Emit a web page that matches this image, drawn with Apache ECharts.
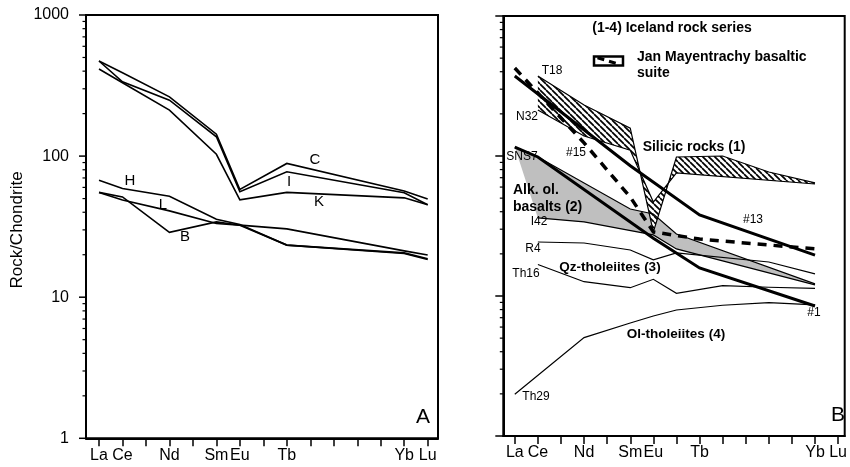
<!DOCTYPE html>
<html>
<head>
<meta charset="utf-8">
<script src="https://cdn.jsdelivr.net/npm/echarts@6/dist/echarts.min.js"></script>
<style>
html,body{margin:0;padding:0;background:#fff;}
#chart{width:850px;height:467px;}
</style>
</head>
<body>
<div id="chart"></div>
<script>
// ---------- Data ----------
const REE = ['La','Ce','Pr','Nd','Pm','Sm','Eu','Gd','Tb','Dy','Ho','Er','Tm','Yb','Lu'];
const xTickLabels = ['La','Ce','Nd','Sm','Eu','Tb','Yb','Lu'];
const yTickLabels = [1, 10, 100, 1000];
const yMinorTicks = [2,3,4,5,6,7,8,9,20,30,40,50,60,70,80,90,200,300,400,500,600,700,800,900];

// Panel A
const elemsA = ['La','Ce','Nd','Sm','Eu','Tb','Yb','Lu'];
const sampleC = [472, 390, 263, 143, 58, 88.7, 56.5, 49.6];
const sampleI = [472, 336, 249, 137, 56, 77.4, 55.0, 45.2];
const sampleK = [414, 331, 212, 103, 49, 55.3, 50.6, 45.2];
const sampleH = [67.3, 59.0, 52.0, 35.7, 32.8, 23.4, 20.4, 18.5];
const sampleL = [55.3, 48.8, 40.9, 33.3, 32.4, 30.5, 21.3, 19.9];
const sampleB = [55.3, 51.4, 28.8, 34.2, 32.4, 23.4, 20.6, 18.7];

// Panel B
const elemsT18 = ['Ce','Nd','Sm','Eu','Gd','Dy','Er','Yb'];
const sampleT18 = [373, 231, 158, 28.7, 98.4, 100, 76.9, 64.2];
const elemsN32 = ['Ce','Nd','Sm','Eu','Gd','Yb'];
const sampleN32 = [213, 139, 110, 46.9, 75.7, 63.1];
const elems13 = ['La','Sm','Tb','Yb'];
const sample13 = [373, 85.2, 37.9, 19.6];
const elems15 = ['La','Ce','Nd','Sm','Eu','Tb','Yb'];
const sample15 = [425, 282, 124, 50.9, 28.7, 25.5, 21.7];
const elems1 = ['La','Ce','Eu','Tb','Yb'];
const sample1 = [115.9, 98.4, 25.9, 15.85, 8.49];
const elemsSNS7 = ['La','Ce','Sm','Eu','Gd','Yb'];
const sampleSNS7 = [115.9, 98.4, 41.8, 38.5, 27.7, 12.2];
const elemsI42 = ['Ce','Nd','Eu','Gd','Yb'];
const sampleI42 = [36.1, 33.8, 27.3, 21.7, 12.0];
const elemsR4 = ['Ce','Nd','Sm','Eu','Gd','Er','Yb'];
const sampleR4 = [24.3, 23.9, 21.3, 18.1, 20.3, 17.5, 14.4];
const elemsTh16 = ['Ce','Nd','Sm','Eu','Gd','Dy','Er','Yb'];
const sampleTh16 = [16.8, 12.65, 11.46, 13.16, 10.45, 11.85, 11.55, 11.35];
const elemsTh29 = ['La','Nd','Sm','Eu','Gd','Dy','Er','Yb'];
const sampleTh29 = [1.99, 5.04, 6.41, 7.2, 7.94, 8.59, 8.96, 8.63];

// ---------- Helpers ----------
const FONT = '"Liberation Sans", Arial, sans-serif';
const pos = e => 57 + REE.indexOf(e);
const pts = (elems, vals) => elems.map((e, i) => [pos(e), vals[i]]);
const X_A = [56.446, 71.439], X_B = [56.503, 71.286];

function hatchPattern() {
  const s = 6;
  const c = document.createElement('canvas');
  c.width = s; c.height = s;
  const ctx = c.getContext('2d');
  ctx.fillStyle = '#fff'; ctx.fillRect(0, 0, s, s);
  ctx.strokeStyle = '#000'; ctx.lineWidth = 1.7;
  for (const k of [-s, 0, s]) {
    ctx.beginPath(); ctx.moveTo(k, 0); ctx.lineTo(k + s, s); ctx.stroke();
  }
  return { image: c, repeat: 'repeat' };
}

function lineSeries(name, elems, vals, xi, yi, width, dashed) {
  return {
    name, type: 'line', xAxisIndex: xi, yAxisIndex: yi,
    data: pts(elems, vals), symbol: 'none', silent: true, z: 5,
    lineStyle: { color: '#000', width: width, type: dashed ? [9, 7] : 'solid', cap: 'butt', join: 'miter' }
  };
}

function bandSeries(upE, upV, loE, loV, xi, yi, fill) {
  const up = pts(upE, upV), lo = pts(loE, loV).reverse();
  return {
    type: 'custom', xAxisIndex: xi, yAxisIndex: yi, silent: true, z: 2,
    data: [[60, 10]],
    renderItem: function (params, api) {
      const poly = up.concat(lo).map(p => api.coord(p));
      return { type: 'polygon', shape: { points: poly }, style: { fill: fill, stroke: null } };
    }
  };
}

// y-axis tick marks (major + minor) placed through the log axis scale
function yTickSeries(xi, yi, xmin, values, len, width) {
  return {
    type: 'custom', xAxisIndex: xi, yAxisIndex: yi, silent: true, z: 6, clip: false,
    data: values.map(v => [xmin, v]),
    renderItem: function (params, api) {
      const p = api.coord([api.value(0), api.value(1)]);
      return { type: 'line', shape: { x1: p[0] - len, y1: p[1], x2: p[0], y2: p[1] },
        style: { stroke: '#000', lineWidth: width } };
    }
  };
}

function xAxisDef(gi, ext) {
  return {
    type: 'value', gridIndex: gi, min: ext[0], max: ext[1],
    axisLine: { show: true, onZero: false, lineStyle: { color: '#000', width: 2 } },
    axisTick: { show: true, inside: false, length: 8, lineStyle: { color: '#000', width: 1.5 },
      customValues: REE.map(pos) },
    axisLabel: { show: true, margin: 9, color: '#000', fontSize: 16, fontFamily: FONT,
      customValues: xTickLabels.map(pos), formatter: v => REE[Math.round(v) - 57] },
    splitLine: { show: false }
  };
}

function yAxisMain(gi, showLabels) {
  return {
    type: 'log', logBase: 10, gridIndex: gi, min: 1, max: 1000, position: 'left',
    axisLine: { show: true, onZero: false, lineStyle: { color: '#000', width: 2 } },
    axisTick: { show: false },
    axisLabel: { show: showLabels, margin: 17, color: '#000', fontSize: 16, fontFamily: FONT,
      customValues: yTickLabels, formatter: v => String(Math.round(v)) },
    splitLine: { show: false }
  };
}

function txt(x, y, text, size, bold, align) {
  return {
    type: 'text', x: x, y: y, silent: true, z: 50,
    style: { text: text, fill: '#000', font: (bold ? 'bold ' : '') + size + 'px ' + FONT,
      align: align || 'center', verticalAlign: 'middle' }
  };
}

const chart = echarts.init(document.getElementById('chart'), null, { renderer: 'canvas' });
const hatch = hatchPattern();

const option = {
  animation: false,
  backgroundColor: '#fff',
  grid: [
    { left: 86, top: 15, width: 352, height: 423.3, show: true, borderColor: '#000', borderWidth: 2, backgroundColor: 'transparent', containLabel: false },
    { left: 503.3, top: 16, width: 347.7, height: 420, show: true, borderColor: '#000', borderWidth: 2, backgroundColor: 'transparent', containLabel: false }
  ],
  xAxis: [ xAxisDef(0, X_A), xAxisDef(1, X_B) ],
  yAxis: [ yAxisMain(0, true), yAxisMain(1, false) ],
  series: [
    // axis ticks
    yTickSeries(0, 0, X_A[0], yTickLabels, 7, 1.5),
    yTickSeries(0, 0, X_A[0], yMinorTicks, 3.5, 1.2),
    yTickSeries(1, 1, X_B[0], yTickLabels, 8, 1.5),
    yTickSeries(1, 1, X_B[0], yMinorTicks, 3.5, 1.2),
    // Panel A
    lineSeries('C', elemsA, sampleC, 0, 0, 1.6),
    lineSeries('I', elemsA, sampleI, 0, 0, 1.6),
    lineSeries('K', elemsA, sampleK, 0, 0, 1.6),
    lineSeries('H', elemsA, sampleH, 0, 0, 1.6),
    lineSeries('L', elemsA, sampleL, 0, 0, 1.6),
    lineSeries('B', elemsA, sampleB, 0, 0, 1.6),
    // Panel B bands
    bandSeries(elemsSNS7, sampleSNS7, elemsI42, sampleI42, 1, 1, '#bfbfbf'),
    bandSeries(elemsT18, sampleT18, elemsN32, sampleN32, 1, 1, hatch),
    // Panel B lines
    lineSeries('SNS7', elemsSNS7, sampleSNS7, 1, 1, 1.2),
    lineSeries('I42', elemsI42, sampleI42, 1, 1, 1.2),
    lineSeries('T18', elemsT18, sampleT18, 1, 1, 1.2),
    lineSeries('N32', elemsN32, sampleN32, 1, 1, 1.2),
    lineSeries('R4', elemsR4, sampleR4, 1, 1, 1.2),
    lineSeries('Th16', elemsTh16, sampleTh16, 1, 1, 1.2),
    lineSeries('Th29', elemsTh29, sampleTh29, 1, 1, 1.2),
    lineSeries('#13', elems13, sample13, 1, 1, 3),
    lineSeries('#1', elems1, sample1, 1, 1, 3),
    lineSeries('#15', elems15, sample15, 1, 1, 3.5, true)
  ],
  graphic: [
    { type: 'text', x: 17.5, y: 230, rotation: Math.PI / 2, silent: true,
      style: { text: 'Rock/Chondrite', fill: '#000', font: '17px ' + FONT, align: 'center', verticalAlign: 'middle' } },
    txt(315, 160, 'C', 15), txt(289, 182, 'I', 15), txt(319, 202, 'K', 15),
    txt(130, 181, 'H', 15), txt(163, 205, 'L', 15), txt(185, 237, 'B', 15),
    txt(423, 417, 'A', 21),
    txt(672, 28, '(1-4) Iceland rock series', 14, true),
    { type: 'rect', silent: true, shape: { x: 594, y: 56.5, width: 29, height: 9 },
      style: { fill: '#fff', stroke: '#000', lineWidth: 2.5 } },
    { type: 'line', silent: true, shape: { x1: 597.5, y1: 57.8, x2: 620, y2: 64.5 },
      style: { stroke: '#000', lineWidth: 3, lineDash: [7, 5] } },
    txt(637, 57, 'Jan Mayentrachy basaltic', 14, true, 'left'),
    txt(637, 73, 'suite', 14, true, 'left'),
    txt(552, 71, 'T18', 12), txt(527, 117, 'N32', 12), txt(576, 153, '#15', 12),
    txt(522, 157, 'SNS7', 12), txt(539, 222, 'I42', 12), txt(753, 220, '#13', 12),
    txt(533, 249, 'R4', 12), txt(526, 274, 'Th16', 12), txt(814, 313, '#1', 12),
    txt(536, 397, 'Th29', 12),
    txt(694, 147, 'Silicic rocks (1)', 14, true),
    txt(513, 190, 'Alk. ol.', 14, true, 'left'),
    txt(513, 207, 'basalts (2)', 14, true, 'left'),
    txt(610, 267, 'Qz-tholeiites (3)', 13.5, true),
    txt(676, 334, 'Ol-tholeiites (4)', 13.5, true),
    txt(838, 415, 'B', 21)
  ]
};
chart.setOption(option);
</script>
</body>
</html>
